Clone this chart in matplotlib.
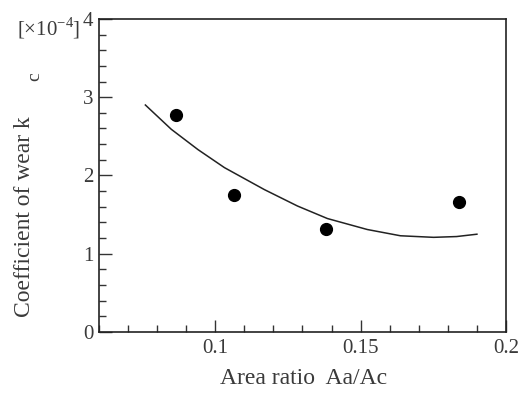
import matplotlib
matplotlib.use("Agg")
import matplotlib.pyplot as plt
from matplotlib.ticker import MultipleLocator, FixedLocator

plt.rcParams['font.family'] = ['Liberation Serif', 'DejaVu Serif']
plt.rcParams['mathtext.fontset'] = 'custom'
plt.rcParams['mathtext.rm'] = 'Liberation Serif'

# measured points
area_ratio = [0.0866, 0.1066, 0.138, 0.184]
wear_coef = [2.77, 1.75, 1.32, 1.66]

# fitted curve
curve_x = [0.0760, 0.0849, 0.0941, 0.1032, 0.1169, 0.1283, 0.1386, 0.1523, 0.1637, 0.1751, 0.1830, 0.1900]
curve_y = [2.90, 2.59, 2.33, 2.10, 1.82, 1.61, 1.45, 1.31, 1.23, 1.21, 1.22, 1.25]

x_ticks = [0.1, 0.15, 0.2]
x_tick_labels = ["0.1", "0.15", "0.2"]
y_ticks = [0, 1, 2, 3, 4]
y_tick_labels = ["0", "1", "2", "3", "4"]

tc = '#3a3a3a'
fig = plt.figure(figsize=(5.23, 3.93), dpi=100)
ax = fig.add_axes([0.189, 0.155, 0.7785, 0.797])
ax.plot(curve_x, curve_y, color='#222222', lw=1.1)
ax.plot(area_ratio, wear_coef, 'o', color='black', ms=8.5)

ax.set_xlim(0.06, 0.2)
ax.set_ylim(0, 4)
ax.xaxis.set_major_locator(FixedLocator(x_ticks))
ax.set_xticklabels(x_tick_labels)
ax.xaxis.set_minor_locator(MultipleLocator(0.01))
ax.yaxis.set_major_locator(FixedLocator(y_ticks))
ax.set_yticklabels(y_tick_labels)
ax.yaxis.set_minor_locator(MultipleLocator(0.2))
ax.tick_params(which='both', direction='in', top=False, right=False,
               labelsize=15, labelcolor=tc, width=1.0, color='#333333')
ax.tick_params(which='major', length=9)
ax.tick_params(axis='x', which='major', pad=5)
ax.tick_params(axis='y', which='major', pad=4)
ax.tick_params(which='minor', length=5)
for s in ax.spines.values():
    s.set_linewidth(1.2)
    s.set_color('#222222')

fig.text(0.58, 0.038, "Area ratio  Aa/Ac", ha='center', va='center', fontsize=17, color=tc)
fig.text(0.046, 0.45, "Coefficient of wear k", ha='center', va='center', rotation=90, fontsize=17, color=tc)
fig.text(0.066, 0.804, "c", ha='center', va='center', rotation=90, fontsize=14, color=tc)
fig.text(0.094, 0.929, r"[$\times$10$^{-4}$]", ha='center', va='center', fontsize=15, color=tc)

fig.savefig("out.png", dpi=100)
